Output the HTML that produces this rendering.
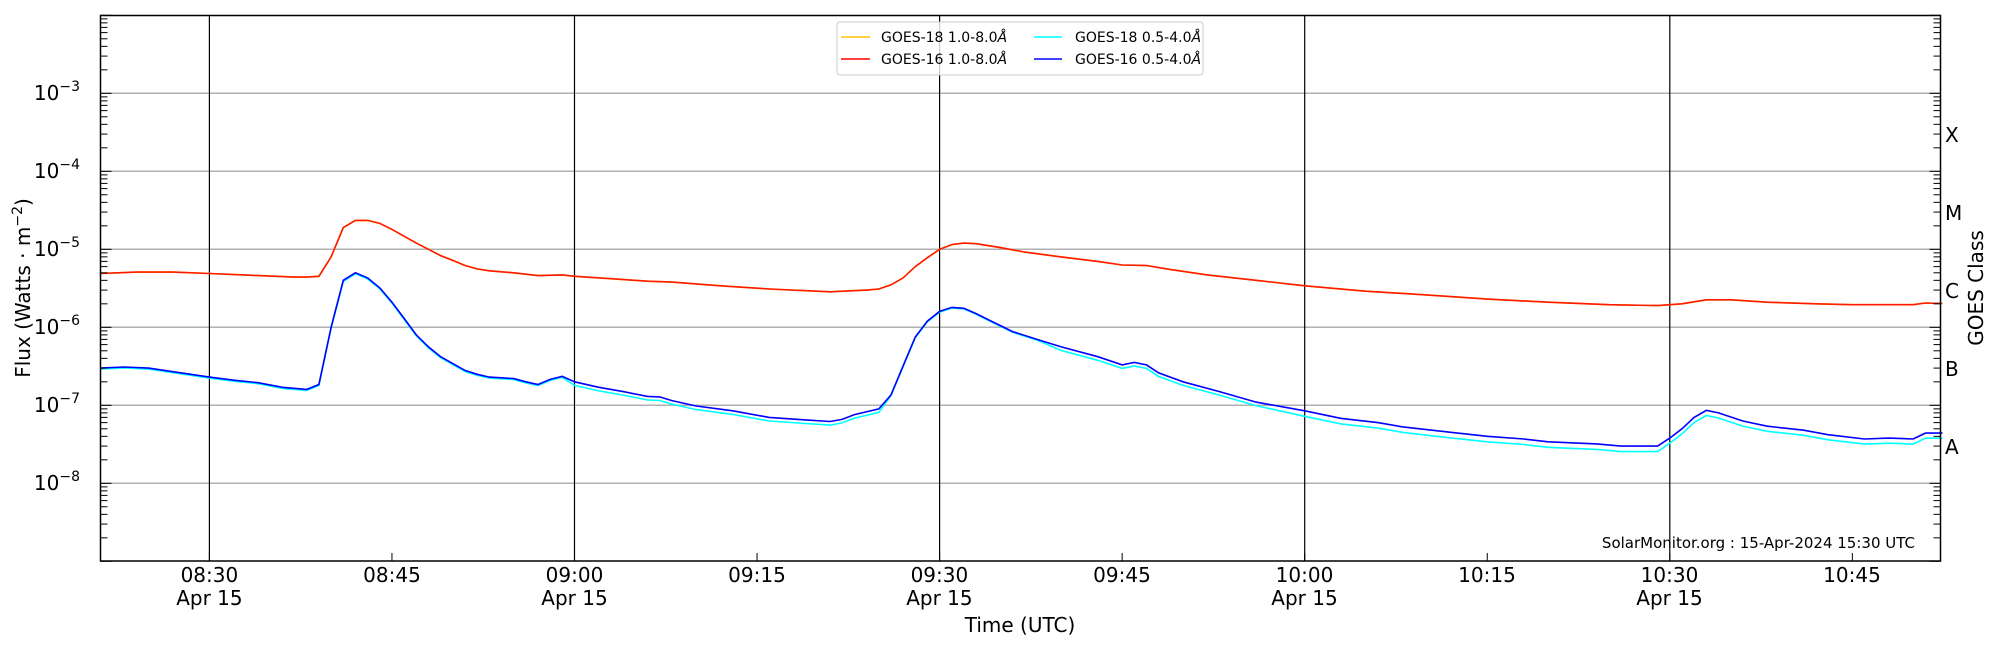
<!DOCTYPE html>
<html><head><meta charset="utf-8"><style>
html,body{margin:0;padding:0;background:#fff;}
svg{display:block;font-family:"DejaVu Sans","Liberation Sans",sans-serif;}
</style></head><body>
<svg id="s" width="2000" height="650" viewBox="0 0 2000 650" xmlns="http://www.w3.org/2000/svg">
<rect width="2000" height="650" fill="#fff"/>
<g id="grid"></g>
<g id="series"></g>
<rect x="100.5" y="15.5" width="1840" height="545.5" fill="none" stroke="#000" stroke-width="1.5"/>
<g id="ticks"></g>
<g font-size="20" text-anchor="end" fill="#000">
<text x="80" y="100">10<tspan dy="-9" font-size="14">−3</tspan></text>
<text x="80" y="178">10<tspan dy="-9" font-size="14">−4</tspan></text>
<text x="80" y="256">10<tspan dy="-9" font-size="14">−5</tspan></text>
<text x="80" y="334">10<tspan dy="-9" font-size="14">−6</tspan></text>
<text x="80" y="412">10<tspan dy="-9" font-size="14">−7</tspan></text>
<text x="80" y="490">10<tspan dy="-9" font-size="14">−8</tspan></text>
</g>
<text transform="translate(30,288) rotate(-90)" font-size="20" text-anchor="middle">Flux (Watts · m<tspan dy="-8" font-size="14">−2</tspan><tspan dy="8">)</tspan></text>
<g font-size="20" fill="#000">
<text x="1945" y="142">X</text>
<text x="1945" y="220">M</text>
<text x="1945" y="298">C</text>
<text x="1945" y="376">B</text>
<text x="1945" y="454">A</text>
</g>
<text transform="translate(1983,288) rotate(-90)" font-size="20" text-anchor="middle">GOES Class</text>
<g font-size="20" text-anchor="middle">
<text x="209.4" y="582">08:30</text><text x="209.4" y="605">Apr 15</text>
<text x="392" y="582">08:45</text>
<text x="574.5" y="582">09:00</text><text x="574.5" y="605">Apr 15</text>
<text x="757" y="582">09:15</text>
<text x="939.4" y="582">09:30</text><text x="939.4" y="605">Apr 15</text>
<text x="1122" y="582">09:45</text>
<text x="1304.5" y="582">10:00</text><text x="1304.5" y="605">Apr 15</text>
<text x="1487" y="582">10:15</text>
<text x="1669.5" y="582">10:30</text><text x="1669.5" y="605">Apr 15</text>
<text x="1852" y="582">10:45</text>
</g>
<text x="1020" y="632" font-size="20" text-anchor="middle">Time (UTC)</text>
<text x="1915" y="548" font-size="15" text-anchor="end">SolarMonitor.org : 15-Apr-2024 15:30 UTC</text>
<rect x="837" y="22" width="366" height="53" rx="3" fill="#fff" fill-opacity="0.8" stroke="#ccc" stroke-width="1"/>
<line x1="841" y1="37" x2="870" y2="37" stroke="#ffc000" stroke-width="1.5"/>
<line x1="841" y1="59" x2="870" y2="59" stroke="#ff0000" stroke-width="1.5"/>
<line x1="1034" y1="37" x2="1062" y2="37" stroke="#00ffff" stroke-width="1.5"/>
<line x1="1034" y1="59" x2="1062" y2="59" stroke="#0000ff" stroke-width="1.5"/>
<g font-size="14">
<text x="881" y="42">GOES-18 1.0-8.0<tspan font-style="italic">Å</tspan></text>
<text x="881" y="64">GOES-16 1.0-8.0<tspan font-style="italic">Å</tspan></text>
<text x="1075" y="42">GOES-18 0.5-4.0<tspan font-style="italic">Å</tspan></text>
<text x="1075" y="64">GOES-16 0.5-4.0<tspan font-style="italic">Å</tspan></text>
</g>
</svg>
<script>
(function(){
var NS="http://www.w3.org/2000/svg";
function X(m){return 209.4+(m-510)*12.17;}
function Y(v){return 93.3-(Math.log10(v)+3)*78;}
function T(s){var p=s.split(":");return +p[0]*60+ +p[1];}
function el(par,tag,at){var e=document.createElementNS(NS,tag);for(var k in at)e.setAttribute(k,at[k]);document.getElementById(par).appendChild(e);return e;}
for(var d=-3;d>=-8;d--){var y=Y(Math.pow(10,d));el("grid","line",{x1:100.5,x2:1940.5,y1:y,y2:y,stroke:"#b0b0b0","stroke-width":1.5});}
["08:30","09:00","09:30","10:00","10:30"].forEach(function(t){var x=X(T(t));el("grid","line",{x1:x,x2:x,y1:15.5,y2:561,stroke:"#000","stroke-width":1.2});});
for(var d=-9;d<=-2;d++){for(var k=1;k<=9;k++){var v=k*Math.pow(10,d);var y=Y(v);if(y<15||y>561.5)continue;var L=k==1?11:7;
el("ticks","line",{x1:100.5,x2:100.5+L,y1:y,y2:y,stroke:"#000","stroke-width":1});
el("ticks","line",{x1:1940.5,x2:1940.5-L,y1:y,y2:y,stroke:"#000","stroke-width":1});}}
for(var m=T("08:30");m<=T("10:45");m+=15){var x=X(m);el("ticks","line",{x1:x,x2:x,y1:561,y2:553,stroke:"#000","stroke-width":1});}
var red=[["08:21",4.9e-6],["08:24",5.1e-6],["08:27",5.1e-6],["08:30",4.9e-6],["08:34",4.6e-6],["08:37",4.4e-6],["08:38",4.4e-6],["08:39",4.5e-6],["08:40",8e-6],["08:41",1.9e-5],["08:42",2.35e-5],["08:43",2.35e-5],["08:44",2.15e-5],["08:45",1.8e-5],["08:47",1.2e-5],["08:48",1e-5],["08:49",8.3e-6],["08:50",7.2e-6],["08:51",6.2e-6],["08:52",5.6e-6],["08:53",5.3e-6],["08:55",5e-6],["08:57",4.6e-6],["08:59",4.7e-6],["09:00",4.5e-6],["09:03",4.2e-6],["09:06",3.9e-6],["09:08",3.8e-6],["09:12",3.4e-6],["09:16",3.1e-6],["09:21",2.85e-6],["09:24",3e-6],["09:25",3.1e-6],["09:26",3.5e-6],["09:27",4.3e-6],["09:28",6e-6],["09:29",7.8e-6],["09:30",1e-5],["09:31",1.15e-5],["09:32",1.2e-5],["09:33",1.18e-5],["09:35",1.05e-5],["09:37",9.2e-6],["09:40",8e-6],["09:43",7e-6],["09:45",6.3e-6],["09:47",6.2e-6],["09:49",5.5e-6],["09:52",4.7e-6],["09:56",4e-6],["10:00",3.4e-6],["10:05",2.9e-6],["10:10",2.6e-6],["10:15",2.3e-6],["10:20",2.1e-6],["10:25",1.95e-6],["10:29",1.9e-6],["10:31",2e-6],["10:33",2.25e-6],["10:35",2.25e-6],["10:38",2.1e-6],["10:42",2e-6],["10:45",1.95e-6],["10:50",1.95e-6],["10:51",2.05e-6],["10:52.4",2.02e-6]];
var blue=[["08:21",3e-7],["08:23",3.1e-7],["08:25",3e-7],["08:27",2.7e-7],["08:30",2.3e-7],["08:32",2.1e-7],["08:34",1.95e-7],["08:36",1.7e-7],["08:38",1.6e-7],["08:39",1.85e-7],["08:40",1e-6],["08:41",4e-6],["08:42",5e-6],["08:43",4.3e-6],["08:44",3.2e-6],["08:45",2.1e-6],["08:46",1.3e-6],["08:47",8e-7],["08:48",5.6e-7],["08:49",4.2e-7],["08:51",2.8e-7],["08:52",2.5e-7],["08:53",2.3e-7],["08:55",2.2e-7],["08:56",2e-7],["08:57",1.85e-7],["08:58",2.15e-7],["08:59",2.35e-7],["09:00",2e-7],["09:02",1.7e-7],["09:04",1.5e-7],["09:06",1.3e-7],["09:07",1.28e-7],["09:08",1.15e-7],["09:10",9.8e-8],["09:13",8.5e-8],["09:16",7e-8],["09:19",6.5e-8],["09:21",6.2e-8],["09:22",6.6e-8],["09:23",7.6e-8],["09:25",9e-8],["09:26",1.35e-7],["09:27",3.2e-7],["09:28",7.5e-7],["09:29",1.2e-6],["09:30",1.6e-6],["09:31",1.8e-6],["09:32",1.75e-6],["09:33",1.5e-6],["09:34",1.25e-6],["09:35",1.05e-6],["09:36",8.8e-7],["09:38",7e-7],["09:40",5.6e-7],["09:43",4.2e-7],["09:45",3.3e-7],["09:46",3.55e-7],["09:47",3.3e-7],["09:48",2.6e-7],["09:50",2e-7],["09:53",1.5e-7],["09:56",1.1e-7],["10:00",8.5e-8],["10:03",6.8e-8],["10:06",6e-8],["10:08",5.3e-8],["10:12",4.5e-8],["10:15",4e-8],["10:18",3.7e-8],["10:20",3.4e-8],["10:24",3.2e-8],["10:26",3e-8],["10:29",3e-8],["10:30",3.8e-8],["10:31",5e-8],["10:32",7e-8],["10:33",8.6e-8],["10:34",8e-8],["10:36",6.3e-8],["10:38",5.4e-8],["10:41",4.8e-8],["10:43",4.2e-8],["10:46",3.7e-8],["10:48",3.8e-8],["10:50",3.7e-8],["10:51",4.4e-8],["10:52.4",4.4e-8]];
function P(data,f){return data.map(function(p,i){var q=p[0].split(":");var m=+q[0]*60+ +q[1];return (i?"L":"M")+X(m).toFixed(1)+","+Y(p[1]*f(m)).toFixed(1);}).join("");}
el("series","path",{d:P(blue,function(m){if(m<540)return 0.97;if(m>=566&&m<=578)return 0.98;if(m<600)return 0.9;if(m<630)return 0.85;return 0.86;}),fill:"none",stroke:"#00ffff","stroke-width":1.6});
el("series","path",{d:P(blue,function(){return 1;}),fill:"none",stroke:"#0000ff","stroke-width":1.6});
el("series","path",{d:P(red,function(){return 1;}),fill:"none",stroke:"#ffc000","stroke-width":1.6});
el("series","path",{d:P(red,function(){return 1;}),fill:"none",stroke:"#ff1a00","stroke-width":1.6});
})();
</script>
</body></html>
